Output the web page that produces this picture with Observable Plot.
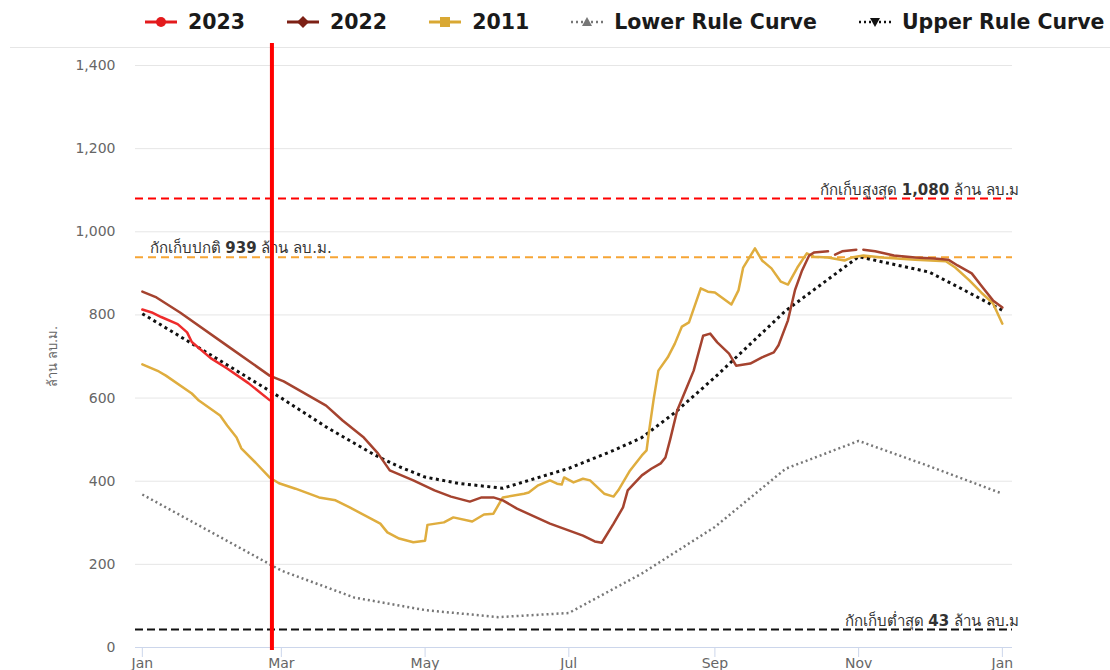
<!DOCTYPE html>
<html><head><meta charset="utf-8">
<script src="https://cdn.jsdelivr.net/npm/d3@7"></script>
<script src="https://cdn.jsdelivr.net/npm/@observablehq/plot@0.6"></script>
<style>
body{margin:0;background:#fff;font-family:"DejaVu Sans","Noto Sans",sans-serif;}
#wrap{position:relative;width:1110px;height:670px;overflow:hidden;background:#fff;}
#legend{position:absolute;top:12px;left:145px;display:flex;gap:42px;align-items:center;height:20px;}
.item{display:flex;align-items:center;font-weight:bold;font-size:20.5px;color:#1a1a1a;white-space:nowrap;line-height:20px;}
.item svg{margin-right:11px;display:block}
#sep{position:absolute;top:47px;left:10px;width:1100px;height:1px;background:#e6e6e6}
#chart{position:absolute;top:40px;left:0}
</style></head><body>
<div id="wrap"><div id="sep"></div><div id="legend"></div><div id="chart"></div></div>
<script>
// x axis is a generic year (2023 frame; last tick = Jan of next year)
const dates2023 = ["2023-01-01","2023-01-05","2023-01-09","2023-01-16","2023-01-20","2023-01-22","2023-01-30","2023-02-06","2023-02-15","2023-02-24"];
const values2023 = [813,806,795,778,758,735,696,671,636,595];

const dates2022 = ["2023-01-01","2023-01-07","2023-01-17","2023-02-07","2023-02-24","2023-03-02","2023-03-20","2023-03-27","2023-04-05","2023-04-11","2023-04-16","2023-04-26","2023-05-05","2023-05-12","2023-05-20","2023-05-25","2023-05-30","2023-06-03","2023-06-09","2023-06-23","2023-07-07","2023-07-12","2023-07-15","2023-07-20","2023-07-24","2023-07-26","2023-08-01","2023-08-05","2023-08-09","2023-08-11","2023-08-13","2023-08-16","2023-08-20","2023-08-23","2023-08-27","2023-08-30","2023-09-02","2023-09-07","2023-09-10","2023-09-16","2023-09-21","2023-09-26","2023-09-28","2023-10-02","2023-10-05","2023-10-08","2023-10-11","2023-10-13","2023-10-19","2023-10-21","2023-10-22","2023-10-25","2023-10-31","2023-11-01","2023-11-03","2023-11-08","2023-11-16","2023-11-25","2023-12-03","2023-12-09","2023-12-13","2023-12-19","2023-12-23","2023-12-28","2024-01-01"];
const values2022 = [856,842,806,722,654,640,582,546,505,467,426,402,378,363,351,361,361,354,334,298,269,255,252,298,337,378,414,430,443,457,500,570,625,666,750,755,734,707,678,683,698,710,727,787,860,907,943,950,953,NaN,945,953,957,NaN,957,953,943,938,936,933,919,900,871,835,818];

const dates2011 = ["2023-01-01","2023-01-08","2023-01-11","2023-01-22","2023-01-25","2023-02-03","2023-02-06","2023-02-10","2023-02-12","2023-02-18","2023-02-24","2023-02-28","2023-03-07","2023-03-17","2023-03-24","2023-03-30","2023-04-12","2023-04-15","2023-04-20","2023-04-26","2023-05-01","2023-05-02","2023-05-09","2023-05-13","2023-05-21","2023-05-26","2023-05-30","2023-06-03","2023-06-12","2023-06-14","2023-06-18","2023-06-23","2023-06-26","2023-06-28","2023-06-29","2023-07-03","2023-07-07","2023-07-10","2023-07-16","2023-07-20","2023-07-22","2023-07-27","2023-08-01","2023-08-03","2023-08-04","2023-08-06","2023-08-08","2023-08-12","2023-08-15","2023-08-18","2023-08-21","2023-08-26","2023-08-29","2023-09-01","2023-09-08","2023-09-11","2023-09-13","2023-09-18","2023-09-21","2023-09-25","2023-09-29","2023-10-02","2023-10-06","2023-10-10","2023-10-13","2023-10-19","2023-10-26","2023-10-29","2023-11-03","2023-11-11","2023-11-25","2023-12-08","2023-12-12","2023-12-18","2023-12-23","2023-12-28","2024-01-01"];
const values2011 = [681,664,654,611,594,558,534,505,479,445,409,395,382,361,354,337,298,277,262,253,257,295,301,313,303,320,322,361,370,373,390,402,394,392,409,397,406,402,370,363,378,426,462,474,518,597,666,698,731,772,782,864,856,854,825,859,914,960,931,912,880,873,914,948,940,938,931,938,943,938,933,929,914,883,854,828,779];

const datesUpper = ["2023-01-01","2023-02-01","2023-03-01","2023-03-21","2023-04-10","2023-04-20","2023-05-01","2023-05-15","2023-06-03","2023-07-01","2023-07-20","2023-08-01","2023-08-15","2023-09-01","2023-10-01","2023-11-01","2023-12-01","2023-12-15","2024-01-01"];
const valuesUpper = [803,697,600,527,462,435,410,395,383,431,474,505,565,650,810,940,903,862,811];

const datesLower = ["2023-01-01","2023-02-01","2023-03-01","2023-04-01","2023-05-01","2023-06-01","2023-07-01","2023-08-01","2023-09-01","2023-10-01","2023-11-01","2023-12-01","2024-01-01"];
const valuesLower = [368,272,185,120,90,73,83,178,290,430,497,436,370];

const levelValues = [1080, 939, 43];
const levelLabels = ["กักเก็บสูงสุด 1,080 ล้าน ลบ.ม", "กักเก็บปกติ 939 ล้าน ลบ.ม.", "กักเก็บต่ำสุด 43 ล้าน ลบ.ม"];
const todayDate = "2023-02-25";
const yTicks = [0,200,400,600,800,1000,1200,1400];
const xTicks = ["2023-01-01","2023-03-01","2023-05-01","2023-07-01","2023-09-01","2023-11-01","2024-01-01"];
const yLabel = "ล้าน ลบ.ม.";

const seriesNames = ["2023","2022","2011","Lower Rule Curve","Upper Rule Curve"];
const seriesColors = ["#ee2b2b","#a5432f","#dfad3e","#777777","#111111"];
const legendColors = ["#e31a1c","#7d2015","#d9a833","#777777","#111111"];

const toRows = (ds, vs) => ds.map((d,i) => ({date: new Date(d), value: vs[i]}));
const s2023 = toRows(dates2023, values2023);
const s2022 = toRows(dates2022, values2022);
const s2011 = toRows(dates2011, values2011);
const sUp = toRows(datesUpper, valuesUpper);
const sLo = toRows(datesLower, valuesLower);

const DAY = 864e5;
const xDomain = [new Date(Date.UTC(2023,0,1) - 2.9*DAY), new Date(Date.UTC(2024,0,1) + 4.3*DAY)];

const chart = Plot.plot({
  width: 1110, height: 630,
  marginLeft: 135, marginRight: 98, marginTop: 25, marginBottom: 23,
  style: {fontFamily: '"DejaVu Sans","Noto Sans",sans-serif', background: "transparent"},
  x: {type: "utc", domain: xDomain},
  y: {domain: [0, 1400]},
  marks: [
    Plot.gridY(yTicks.filter(d => d > 0), {stroke: "#e6e6e6", strokeOpacity: 1}),
    Plot.axisY(yTicks, {tickSize: 0, tickPadding: 20, tickFormat: d3.format(","), fontSize: 14, fill: "#666", label: null}),
    Plot.axisX(xTicks.map(d => new Date(d)), {tickSize: 10, tickPadding: 1, stroke: "#ccd6eb", fill: "#666", fontSize: 14, tickFormat: d3.utcFormat("%b"), label: null}),
    Plot.ruleY([0], {stroke: "#ccd6eb"}),
    Plot.text([yLabel], {frameAnchor: "left", textAnchor: "middle", dx: -83, rotate: -90, fontSize: 13, fill: "#666"}),
    Plot.ruleY([levelValues[0]], {stroke: "#ff0000", strokeWidth: 2, strokeDasharray: "8,5"}),
    Plot.ruleY([levelValues[1]], {stroke: "#f6a535", strokeWidth: 2, strokeDasharray: "8,5"}),
    Plot.ruleY([levelValues[2]], {stroke: "#111", strokeWidth: 2, strokeDasharray: "8,4"}),
    Plot.line(sLo, {x: "date", y: "value", stroke: seriesColors[3], strokeWidth: 2.5, strokeDasharray: "2,3", strokeLinecap: "butt"}),
    Plot.line(sUp, {x: "date", y: "value", stroke: seriesColors[4], strokeWidth: 3, strokeDasharray: "3,3.5", strokeLinecap: "butt"}),
    Plot.line(s2011, {x: "date", y: "value", stroke: seriesColors[2], strokeWidth: 2.5}),
    Plot.line(s2022, {x: "date", y: "value", stroke: seriesColors[1], strokeWidth: 2.5}),
    Plot.line(s2023, {x: "date", y: "value", stroke: seriesColors[0], strokeWidth: 2.5}),
    Plot.text([levelLabels[0]], {y: [levelValues[0]], frameAnchor: "right", textAnchor: "end", lineAnchor: "bottom", dx: 7, dy: -4, fontSize: 15, fill: "#333"}),
    Plot.text([levelLabels[1]], {y: [levelValues[1]], frameAnchor: "left", textAnchor: "start", lineAnchor: "bottom", dx: 14, dy: -4, fontSize: 15, fill: "#333"}),
    Plot.text([levelLabels[2]], {y: [levelValues[2]], frameAnchor: "right", textAnchor: "end", lineAnchor: "bottom", dx: 7, dy: -4, fontSize: 15, fill: "#333"}),
    Plot.ruleX([new Date(todayDate)], {stroke: "#ff0000", strokeWidth: 4, insetTop: -22, insetBottom: -3})
  ]
});

// bold the numbers inside the level labels
d3.select(chart).selectAll('g[aria-label="text"] text').each(function() {
  const t = this.textContent;
  if (!/\d/.test(t)) return;
  const sel = d3.select(this);
  sel.text(null);
  t.split(/(\d[\d,]*)/).forEach(p => {
    if (!p) return;
    sel.append("tspan").attr("font-weight", /^\d/.test(p) ? "bold" : null).text(p);
  });
});
document.getElementById("chart").appendChild(chart);

// legend
const legend = d3.select("#legend");
seriesNames.forEach((name, i) => {
  const item = legend.append("div").attr("class", "item");
  const svg = item.append("svg").attr("width", 32).attr("height", 20);
  const c = legendColors[i];
  if (i < 3) {
    svg.append("line").attr("x1", 0).attr("x2", 32).attr("y1", 10).attr("y2", 10).attr("stroke", c).attr("stroke-width", 3);
    if (i === 0) svg.append("circle").attr("cx", 16).attr("cy", 10).attr("r", 5).attr("fill", c);
    if (i === 1) svg.append("path").attr("d", "M16,4L22,10L16,16L10,10Z").attr("fill", c);
    if (i === 2) svg.append("rect").attr("x", 11).attr("y", 5).attr("width", 10).attr("height", 10).attr("fill", c);
  } else {
    svg.append("line").attr("x1", 0).attr("x2", 32).attr("y1", 10).attr("y2", 10).attr("stroke", c).attr("stroke-width", 2.5).attr("stroke-dasharray", "2,3");
    if (i === 3) svg.append("path").attr("d", "M16,5L21,14L11,14Z").attr("fill", c);
    else svg.append("path").attr("d", "M11,6L21,6L16,15Z").attr("fill", c);
  }
  item.append("span").text(name);
});
</script>
</body></html>
